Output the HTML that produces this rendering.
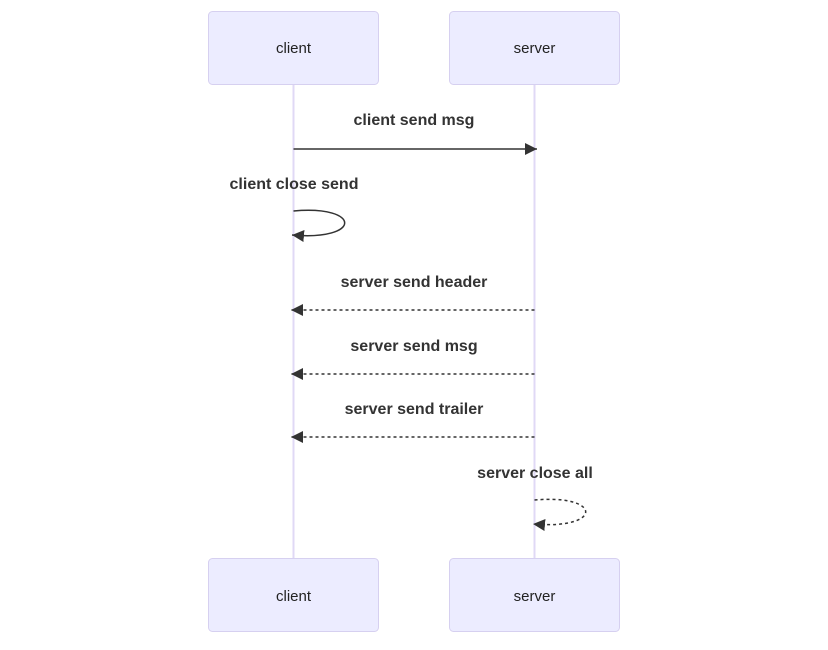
<!DOCTYPE html>
<html><head><meta charset="utf-8"><style>
html,body{margin:0;padding:0;background:#fff;}
svg text{font-family:"Liberation Sans",sans-serif;}
</style></head><body>
<svg width="828" height="645" viewBox="0 0 828 645" xmlns="http://www.w3.org/2000/svg">
<defs>
<marker id="ah" markerWidth="12" markerHeight="12" refX="12" refY="6" orient="auto" markerUnits="userSpaceOnUse">
<path d="M0,0 L12,6 L0,12 z" fill="#333"/>
</marker>
</defs>
<line x1="293.5" y1="85" x2="293.5" y2="558" stroke="#e0d9f6" stroke-width="2"/>
<line x1="534.5" y1="85" x2="534.5" y2="558" stroke="#e0d9f6" stroke-width="2"/>
<g fill="#ececff" stroke="#d6d0f0" stroke-width="1">
<rect x="208.5" y="11.5" width="170" height="73" rx="4"/>
<rect x="449.5" y="11.5" width="170" height="73" rx="4"/>
<rect x="208.5" y="558.5" width="170" height="73" rx="4"/>
<rect x="449.5" y="558.5" width="170" height="73" rx="4"/>
</g>
<g font-size="15" fill="#222" text-anchor="middle">
<text x="293.5" y="53">client</text>
<text x="534.5" y="53">server</text>
<text x="293.5" y="601">client</text>
<text x="534.5" y="601">server</text>
</g>
<g font-size="16" font-weight="bold" fill="#333" text-anchor="middle">
<text x="414" y="125">client send msg</text>
<text x="294" y="189">client close send</text>
<text x="414" y="287">server send header</text>
<text x="414" y="351">server send msg</text>
<text x="414" y="414">server send trailer</text>
<text x="535" y="478">server close all</text>
</g>
<g stroke="#333" stroke-width="1.5" fill="none">
<line x1="293.5" y1="149" x2="537" y2="149" marker-end="url(#ah)"/>
<path d="M293.5,211 C362,205 362,241 292,235" marker-end="url(#ah)"/>
<line x1="534.5" y1="310" x2="291" y2="310" stroke-dasharray="3,3" marker-end="url(#ah)"/>
<line x1="534.5" y1="374" x2="291" y2="374" stroke-dasharray="3,3" marker-end="url(#ah)"/>
<line x1="534.5" y1="437" x2="291" y2="437" stroke-dasharray="3,3" marker-end="url(#ah)"/>
<path d="M534.5,500 C603,494 603,530 533,524" stroke-dasharray="3,3" marker-end="url(#ah)"/>
</g>
</svg>
</body></html>
